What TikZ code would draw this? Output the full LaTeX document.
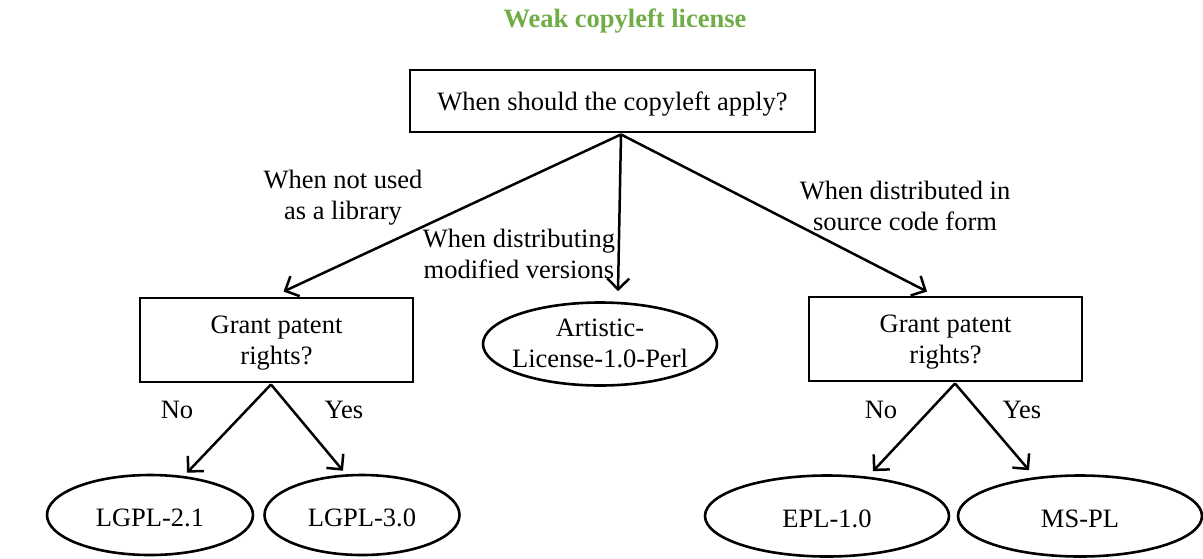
\documentclass[tikz,border=0pt]{standalone}
\usepackage{fontspec}
\setmainfont{Liberation Serif}
\usetikzlibrary{arrows.meta,shapes.geometric,calc}
\definecolor{titlegreen}{HTML}{70AD47}
\begin{document}
\begin{tikzpicture}[x=1pt,y=-1pt,
  every node/.style={font=\fontsize{26.5}{31}\selectfont},
  qbox/.style={draw,line width=2.9pt,inner sep=0pt,align=center},
  leaf/.style={draw,ellipse,line width=2.6pt,inner sep=0pt},
  lbl/.style={align=center,inner sep=0pt},
  inlbl/.style={align=center,inner sep=0pt,yshift=-3pt},
  arr/.style={line width=2.5pt,-{Straight Barb[length=11pt,width=22pt,line width=2.5pt]}}]
\useasboundingbox (0,0) rectangle (1203,558);
\node (title) at (625,21) {\textcolor{titlegreen}{\bfseries Weak copyleft license}};
\node[qbox,minimum width=405pt,minimum height=62pt] (root) at (612.5,101) {};
\node[inlbl] (roott) at (root.center) {When should the copyleft apply?};
\node[qbox,minimum width=273pt,minimum height=84pt] (lbox) at (276.5,340) {};
\node[inlbl] (lboxt) at (lbox.center) {Grant patent\\rights?};
\node[qbox,minimum width=273pt,minimum height=84pt] (rbox) at (945.5,339) {};
\node[inlbl] (rboxt) at (rbox.center) {Grant patent\\rights?};
\node[leaf,minimum width=234pt,minimum height=83pt] (art) at (600,344) {};
\node[lbl] (artt) at ($(art.center)+(0,-1)$) {Artistic-\\License-1.0-Perl};
\node[leaf,minimum width=206pt,minimum height=80pt] (lg21) at (150,515) {};
\node[inlbl] (lg21t) at (lg21.center) {LGPL-2.1};
\node[leaf,minimum width=195pt,minimum height=80pt] (lg30) at (362,515) {};
\node[inlbl] (lg30t) at (lg30.center) {LGPL-3.0};
\node[leaf,minimum width=244pt,minimum height=81pt] (epl) at (827,516) {};
\node[inlbl] (eplt) at (epl.center) {EPL-1.0};
\node[leaf,minimum width=244pt,minimum height=81pt] (mspl) at (1080,516) {};
\node[inlbl] (msplt) at (mspl.center) {MS-PL};
\coordinate (rs) at ($(root.south)+(8.5,1)$);
\coordinate (ls) at ($(lbox.south)+(-5.5,1)$);
\coordinate (rbs) at ($(rbox.south)+(9.5,1)$);
\draw[arr] (rs) -- ($(lbox.north)+(7,-5)$);
\draw[arr] (rs) -- ($(art.north)+(18,-10)$);
\draw[arr] (rs) -- ($(rbox.north)+(-18.5,-4)$);
\draw[arr] (ls) -- ($(lg21.north)+(37,-1)$);
\draw[arr] (ls) -- ($(lg30.north)+(-19,-3)$);
\draw[arr] (rbs) -- ($(epl.north)+(46,-3)$);
\draw[arr] (rbs) -- ($(mspl.north)+(-51,-4)$);
\node[lbl] (l1) at (343,198) {When not used\\as a library};
\node[lbl] (l2) at (519,254) {When distributing\\modified versions};
\node[lbl] (l3) at (905,206) {When distributed in\\source code form};
\node[lbl] (n1) at (177,410) {No};
\node[lbl] (y1) at (344,410) {Yes};
\node[lbl] (n2) at (881,410) {No};
\node[lbl] (y2) at (1022,410) {Yes};
\end{tikzpicture}
\end{document}
